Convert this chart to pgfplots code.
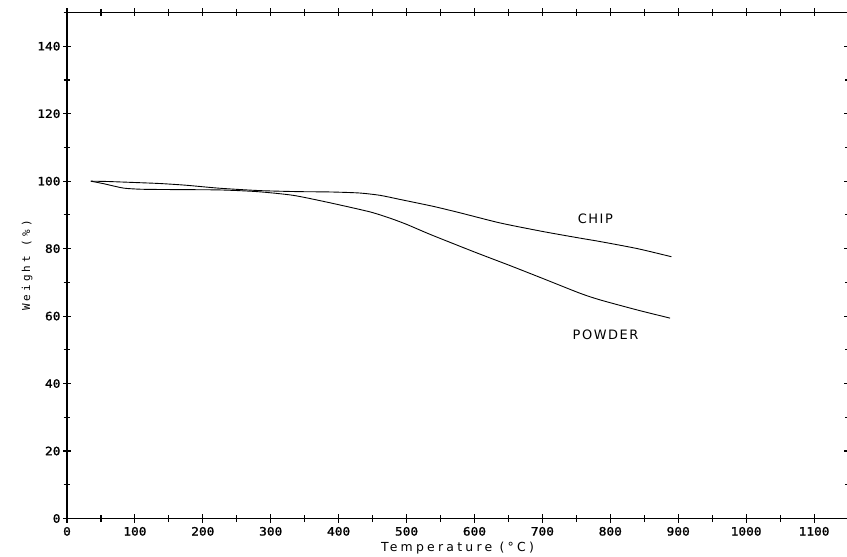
\documentclass[border=0pt]{standalone}
\usepackage{fontspec}
\setmainfont{DejaVu Sans}
\newfontfamily\plotmono{DejaVu Sans Mono}[FakeBold=1.5,FakeStretch=1.12]
\newfontfamily\labmono{DejaVu Sans Mono}[LetterSpace=28]
\newfontfamily\labsans{DejaVu Sans}[LetterSpace=12]
\newfontfamily\xlabsans{DejaVu Sans}[LetterSpace=26]
\usepackage{pgfplots}
\pgfplotsset{compat=1.18}
\begin{document}
\begin{tikzpicture}
\begin{axis}[
  scale only axis,
  width=781bp, height=506bp,
  xmin=0, xmax=1150, ymin=0, ymax=150,
  xtick={0,100,...,1100},
  ytick={0,20,...,140},
  minor xtick={50,150,...,1150},
  minor ytick={10,30,...,150},
  tick align=center,
  major tick length=8bp,
  minor tick length=7bp,
  every tick/.style={black, line width=1.1pt},
  axis line style={line width=1.5pt},
  ticklabel style={font=\plotmono\fontsize{11.5}{13}\selectfont},
  /pgf/number format/assume math mode=true,
  /pgf/number format/1000 sep={},
  xticklabel style={yshift=-1bp},
  yticklabel style={xshift=1bp},
  xlabel={\xlabsans\fontsize{12.5}{14}\selectfont Temperature (°C)},
  ylabel={\labmono\fontsize{11}{13}\selectfont Weight (\%)},
  xlabel style={yshift=0bp},
  ylabel style={yshift=-2bp},
]
% CHIP
\addplot[black, line width=0.9pt, smooth, tension=0.4] coordinates {
(35,100) (60,99.9) (100,99.6) (137,99.3) (175,98.8) (225,97.9) (284,97.2)
(340,96.9) (387,96.8) (430,96.5) (461,95.8) (490,94.6) (540,92.5) (579,90.6)
(638,87.6) (700,85.1) (750,83.3) (785,82.1) (840,80.0) (890,77.6)
};
% POWDER
\addplot[black, line width=0.9pt, smooth, tension=0.4] coordinates {
(35,100) (55,99.2) (70,98.5) (85,97.9) (110,97.6) (160,97.5) (225,97.4)
(280,96.9) (333,95.8) (387,93.6) (446,90.9) (476,89.0) (500,87.2) (535,84.2)
(600,79.0) (652,75.0) (700,71.2) (755,66.8) (785,64.8) (840,61.8) (888,59.4)
};
\node[font=\labsans\fontsize{13}{15}\selectfont] at (axis cs:778,88.7) {CHIP};
\node[font=\labsans\fontsize{13}{15}\selectfont] at (axis cs:793,54.4) {POWDER};
\end{axis}
\pgfresetboundingbox
\path ([xshift=-67bp,yshift=-38bp]current axis.south west) rectangle ([xshift=-1bp,yshift=12.5bp]current axis.north east);
\end{tikzpicture}
\end{document}
